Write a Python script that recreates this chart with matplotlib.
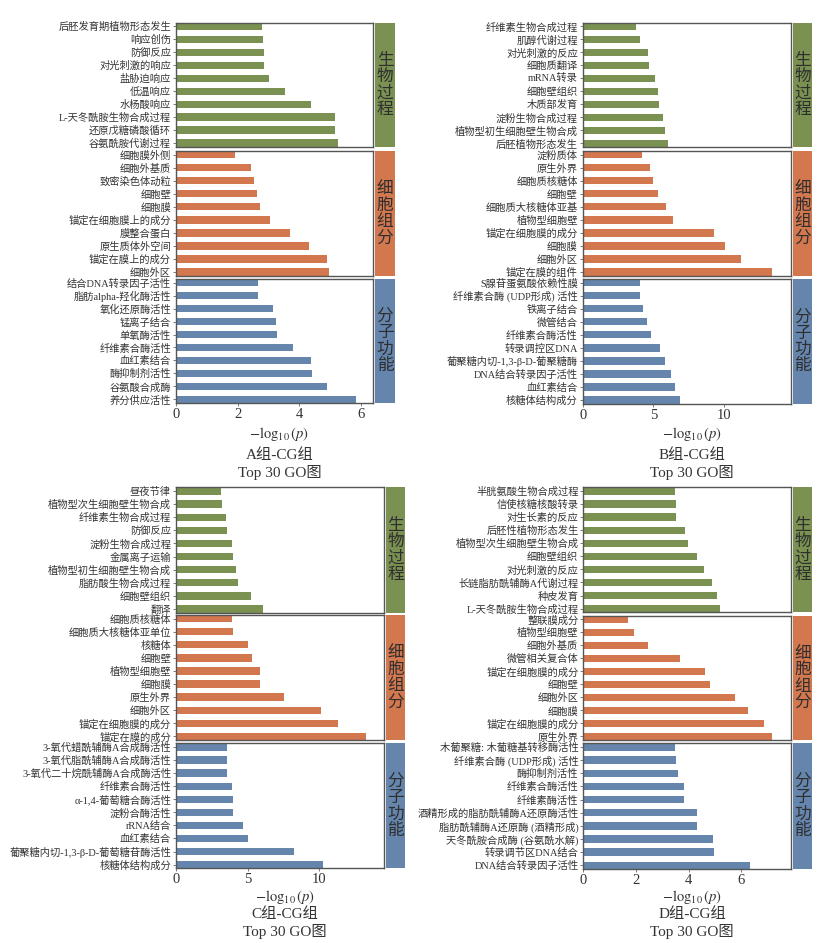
import matplotlib
matplotlib.use('Agg')
import matplotlib.pyplot as plt
import numpy as np

plt.rcParams['font.family'] = ['Liberation Serif', 'Noto Sans CJK SC', 'DejaVu Sans']
plt.rcParams['mathtext.fontset'] = 'stix'

group_names = ['生物过程', '细胞组分', '分子功能']
group_colors = ['#7a9152', '#d3774f', '#6585ad']

# ---------------- Panel A ----------------
a_bp_terms = ['后胚发育期植物形态发生', '响应创伤', '防御反应', '对光刺激的响应', '盐胁迫响应',
              '低温响应', '水杨酸响应', 'L-天冬酰胺生物合成过程', '还原戊糖磷酸循环', '谷氨酰胺代谢过程']
a_bp_vals = [2.79, 2.83, 2.87, 2.87, 3.01, 3.55, 4.38, 5.18, 5.18, 5.27]
a_cc_terms = ['细胞膜外侧', '细胞外基质', '致密染色体动粒', '细胞壁', '细胞膜',
              '锚定在细胞膜上的成分', '膜整合蛋白', '原生质体外空间', '锚定在膜上的成分', '细胞外区']
a_cc_vals = [1.91, 2.44, 2.53, 2.63, 2.74, 3.05, 3.71, 4.32, 4.91, 4.96]
a_mf_terms = ['结合DNA转录因子活性', '脂肪alpha-羟化酶活性', '氧化还原酶活性', '锰离子结合', '单氧酶活性',
              '纤维素合酶活性', '血红素结合', '酶抑制剂活性', '谷氨酸合成酶', '养分供应活性']
a_mf_vals = [2.65, 2.68, 3.15, 3.25, 3.28, 3.80, 4.40, 4.42, 4.91, 5.84]
a_xticks = [0, 2, 4, 6]

# ---------------- Panel B ----------------
b_bp_terms = ['纤维素生物合成过程', '肌醇代谢过程', '对光刺激的反应', '细胞质翻译', 'mRNA转录',
              '细胞壁组织', '木质部发育', '淀粉生物合成过程', '植物型初生细胞壁生物合成', '后胚植物形态发生']
b_bp_vals = [3.75, 4.03, 4.60, 4.69, 5.12, 5.35, 5.40, 5.66, 5.83, 6.04]
b_cc_terms = ['淀粉质体', '原生外界', '细胞质核糖体', '细胞壁', '细胞质大核糖体亚基',
              '植物型细胞壁', '锚定在细胞膜的成分', '细胞膜', '细胞外区', '锚定在膜的组件']
b_cc_vals = [4.20, 4.79, 4.98, 5.31, 5.87, 6.37, 9.27, 10.09, 11.23, 13.42]
b_mf_terms = ['S腺苷蛋氨酸依赖性膜', '纤维素合酶 (UDP形成) 活性', '铁离子结合', '微管结合', '纤维素合酶活性',
              '转录调控区DNA', '葡聚糖内切-1,3-β-D-葡聚糖酶', 'DNA结合转录因子活性', '血红素结合', '核糖体结构成分']
b_mf_vals = [4.06, 4.08, 4.27, 4.55, 4.81, 5.47, 5.85, 6.23, 6.53, 6.91]
b_xticks = [0, 5, 10]

# ---------------- Panel C ----------------
c_bp_terms = ['昼夜节律', '植物型次生细胞壁生物合成', '纤维素生物合成过程', '防御反应', '淀粉生物合成过程',
              '金属离子运输', '植物型初生细胞壁生物合成', '脂肪酸生物合成过程', '细胞壁组织', '翻译']
c_bp_vals = [3.12, 3.22, 3.47, 3.57, 3.87, 3.96, 4.20, 4.31, 5.22, 6.06]
c_cc_terms = ['细胞质核糖体', '细胞质大核糖体亚单位', '核糖体', '细胞壁', '植物型细胞壁',
              '细胞膜', '原生外界', '细胞外区', '锚定在细胞膜的成分', '锚定在膜的成分']
c_cc_vals = [3.89, 3.96, 4.99, 5.27, 5.83, 5.85, 7.53, 10.12, 11.28, 13.24]
c_mf_terms = ['3-氧代蜡酰辅酶A合成酶活性', '3-氧代脂酰辅酶A合成酶活性', '3-氧代二十烷酰辅酶A合成酶活性',
              '纤维素合酶活性', 'α-1,4-葡萄糖合酶活性', '淀粉合酶活性', 'rRNA结合', '血红素结合',
              '葡聚糖内切-1,3-β-D-葡萄糖苷酶活性', '核糖体结构成分']
c_mf_vals = [3.54, 3.54, 3.54, 3.87, 3.96, 3.96, 4.69, 5.03, 8.21, 10.26]
c_xticks = [0, 5, 10]

# ---------------- Panel D ----------------
d_bp_terms = ['半胱氨酸生物合成过程', '信使核糖核酸转录', '对生长素的反应', '后胚性植物形态发生',
              '植物型次生细胞壁生物合成', '细胞壁组织', '对光刺激的反应', '长链脂肪酰辅酶A代谢过程',
              '种皮发育', 'L-天冬酰胺生物合成过程']
d_bp_vals = [3.48, 3.51, 3.54, 3.87, 3.96, 4.33, 4.59, 4.87, 5.09, 5.19]
d_cc_terms = ['整联膜成分', '植物型细胞壁', '细胞外基质', '微管相关复合体', '锚定在细胞膜的成分',
              '细胞壁', '细胞外区', '细胞膜', '锚定在细胞膜的成分', '原生外界']
d_cc_vals = [1.71, 1.94, 2.44, 3.66, 4.62, 4.80, 5.78, 6.27, 6.85, 7.18]
d_mf_terms = ['木葡聚糖: 木葡糖基转移酶活性', '纤维素合酶 (UDP形成) 活性', '酶抑制剂活性', '纤维素合酶活性',
              '纤维素酶活性', '酒精形成的脂肪酰辅酶A还原酶活性', '脂肪酰辅酶A还原酶 (酒精形成)',
              '天冬酰胺合成酶 (谷氨酰水解)', '转录调节区DNA结合', 'DNA结合转录因子活性']
d_mf_vals = [3.48, 3.51, 3.58, 3.82, 3.82, 4.32, 4.32, 4.91, 4.95, 6.34]
d_xticks = [0, 2, 4, 6]

W, H = 839, 943
fig = plt.figure(figsize=(W / 100, H / 100), dpi=100)
fig.patch.set_facecolor('white')


def px_axes(x0, y0, x1, y1):
    return fig.add_axes([x0 / W, 1 - y1 / H, (x1 - x0) / W, (y1 - y0) / H])


BAR_H = 0.56
EDGE = '#555555'
TXT = '#333333'


def panel(x0, x1, sx0, sx1, rows, xmax, xticks, data, xlabel_y, title_y, title):
    for i, ((ya, yb), (terms, vals)) in enumerate(zip(rows, data)):
        color = group_colors[i]
        ax = px_axes(x0, ya, x1, yb)
        y = np.arange(len(terms))
        ax.barh(y, vals, height=BAR_H, color=color, linewidth=0)
        ax.set_ylim(len(terms) - 1 + BAR_H / 2, -BAR_H / 2)
        ax.set_xlim(0, xmax)
        ax.set_yticks(y)
        ax.set_yticklabels(terms, fontsize=7.4, color=TXT)
        ax.tick_params(axis='y', length=2, width=0.6, color='#666666', pad=1.5)
        for s in ax.spines.values():
            s.set_color(EDGE)
            s.set_linewidth(1.0)
        ax.set_xticks(xticks)
        if i < 2:
            ax.tick_params(axis='x', length=0, labelbottom=False)
        else:
            ax.set_xticklabels([str(t) for t in xticks])
            ax.tick_params(axis='x', length=2.5, width=0.6, color='#666666', pad=1,
                           labelsize=10.5, labelcolor=TXT)
        # strip
        sax = px_axes(sx0, ya, sx1, yb)
        sax.set_facecolor(color)
        sax.set_xticks([])
        sax.set_yticks([])
        for s in sax.spines.values():
            s.set_visible(False)
        sax.text(0.5, 0.5, '\n'.join(group_names[i]), ha='center', va='center',
                 fontsize=12, color='#2e2e2e', linespacing=0.95,
                 family=['Noto Sans CJK SC'], transform=sax.transAxes)
    cx = (x0 + x1) / 2 + 5
    fig.text(cx / W, 1 - xlabel_y / H, r'$-\mathrm{log}_{10}\,(p)$', ha='center', va='center',
             fontsize=10.5, color=TXT)
    fig.text(cx / W, 1 - title_y / H, title, ha='center', va='center',
             fontsize=11, color=TXT, linespacing=1.2)


panel(176, 373, 375, 395,
      [(22.7, 146.7), (151, 275.7), (279, 403)], 6.4, a_xticks,
      [(a_bp_terms, a_bp_vals), (a_cc_terms, a_cc_vals), (a_mf_terms, a_mf_vals)],
      434, 464, 'A组-CG组\nTop 30 GO图')

panel(582.7, 791, 793, 812,
      [(22.7, 147), (151, 275.7), (279, 403.7)], 14.74, b_xticks,
      [(b_bp_terms, b_bp_vals), (b_cc_terms, b_cc_vals), (b_mf_terms, b_mf_vals)],
      434, 464, 'B组-CG组\nTop 30 GO图')

panel(176, 384, 386, 405,
      [(487.3, 612.7), (615, 740), (743.3, 868.3)], 14.5, c_xticks,
      [(c_bp_terms, c_bp_vals), (c_cc_terms, c_cc_vals), (c_mf_terms, c_mf_vals)],
      897, 923, 'C组-CG组\nTop 30 GO图')

panel(583.3, 791, 793, 812,
      [(487.3, 612.3), (615.7, 740), (743.3, 869)], 7.89, d_xticks,
      [(d_bp_terms, d_bp_vals), (d_cc_terms, d_cc_vals), (d_mf_terms, d_mf_vals)],
      897, 923, 'D组-CG组\nTop 30 GO图')

fig.savefig('out.png', dpi=100, facecolor='white')
